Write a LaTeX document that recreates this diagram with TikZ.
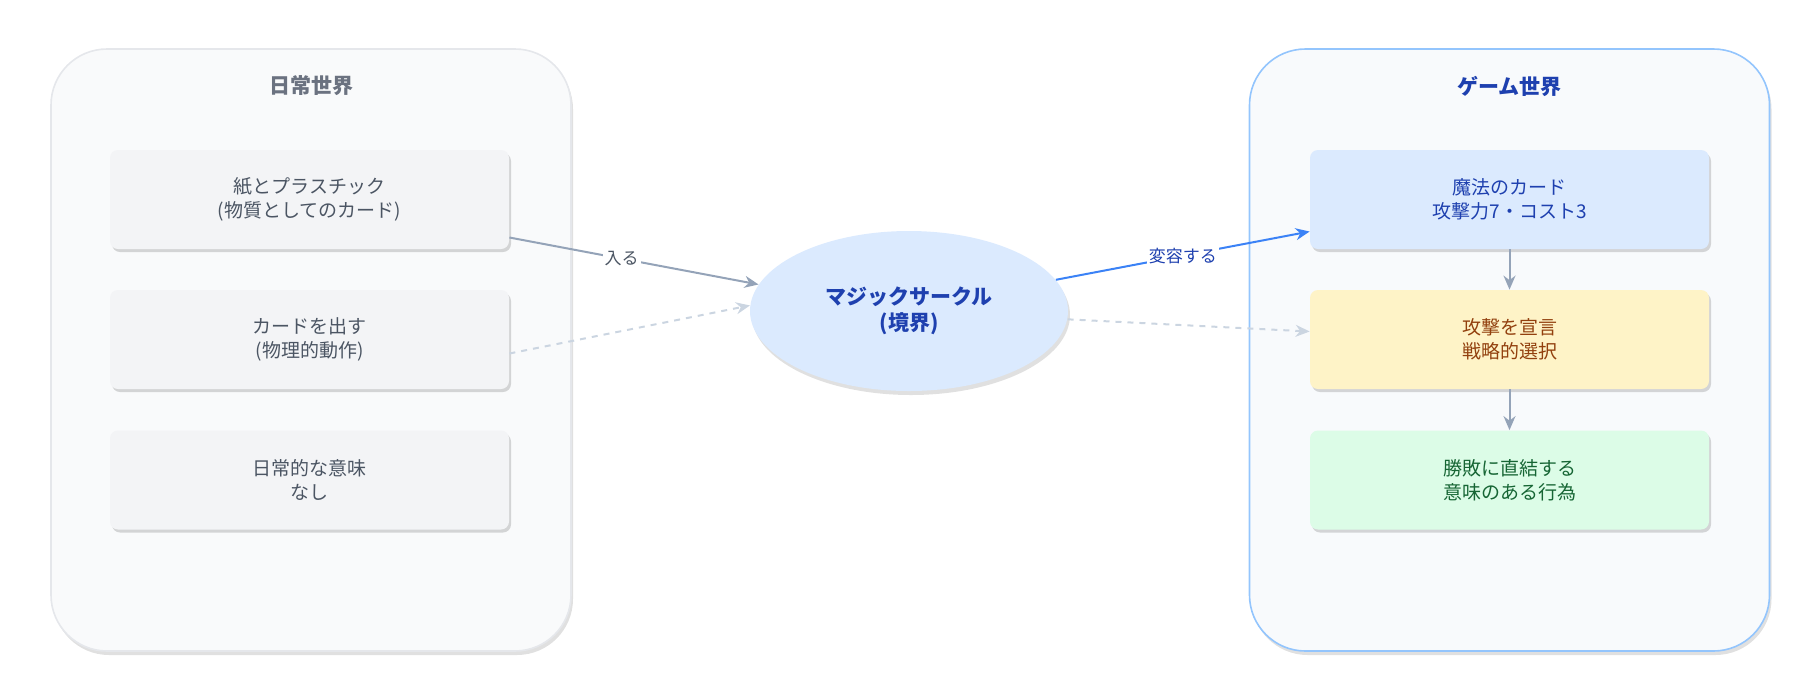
\documentclass[tikz,border=0pt]{standalone}
\usepackage{fontspec}
\setmainfont{Noto Sans CJK JP}
\usetikzlibrary{positioning,shadows,arrows.meta,shapes.geometric}
\definecolor{panelgray}{HTML}{F9FAFB}
\definecolor{panelline}{HTML}{E5E7EB}
\definecolor{panelblue}{HTML}{F8FAFC}
\definecolor{panelblueline}{HTML}{93C5FD}
\definecolor{boxgray}{HTML}{F3F4F6}
\definecolor{textgray}{HTML}{4B5563}
\definecolor{titlegray}{HTML}{6B7280}
\definecolor{bluefill}{HTML}{DBEAFE}
\definecolor{bluetext}{HTML}{1E40AF}
\definecolor{yellowfill}{HTML}{FEF3C7}
\definecolor{browntext}{HTML}{92400E}
\definecolor{greenfill}{HTML}{DCFCE7}
\definecolor{greentext}{HTML}{166534}
\definecolor{arrowgray}{HTML}{94A3B8}
\definecolor{dashgray}{HTML}{CBD5E1}
\definecolor{arrowblue}{HTML}{3B82F6}
\tikzset{
  panel/.style={rounded corners=28pt, line width=0.8pt, minimum width=260pt, minimum height=301pt,
    drop shadow={shadow xshift=1pt, shadow yshift=-2pt, fill=black, opacity=0.12}},
  item/.style={rounded corners=4pt, minimum width=199.5pt, minimum height=49.5pt, align=center,
    font=\fontsize{9.5}{12}\selectfont,
    drop shadow={shadow xshift=1pt, shadow yshift=-1.5pt, fill=black, opacity=0.15}},
  flow/.style={-{Stealth[length=7pt,width=6pt]}, line width=1pt},
  lbl/.style={fill=white, inner sep=1pt, font=\fontsize{8.5}{10}\selectfont, text=textgray}
}
\begin{document}
\begin{tikzpicture}[x=0.5pt, y=-0.5pt]
  \useasboundingbox (0,0) rectangle (1805,687);

  % Paneles
  \node[panel, draw=panelline, fill=panelgray] (daily) at (311,350) {};
  \node[panel, draw=panelblueline, fill=panelblue] (game) at (1509.5,350) {};
  \node[font=\bfseries\fontsize{10.5}{12}\selectfont, text=titlegray] (dailytitle) at (311,86) {日常世界};
  \node[font=\bfseries\fontsize{10.5}{12}\selectfont, text=bluetext] (gametitle) at (1509.5,86) {ゲーム世界};

  % Mundo cotidiano
  \node[item, fill=boxgray, text=textgray] (paper) at (309.5,199.5) {紙とプラスチック\\(物質としてのカード)};
  \node[item, fill=boxgray, text=textgray] (play) at (309.5,339.5) {カードを出す\\(物理的動作)};
  \node[item, fill=boxgray, text=textgray] (meaning) at (309.5,480) {日常的な意味\\なし};

  % Mundo del juego
  \node[item, fill=bluefill, text=bluetext] (magic) at (1509.5,199.5) {魔法のカード\\攻撃力7・コスト3};
  \node[item, fill=yellowfill, text=browntext] (attack) at (1509.5,339.5) {攻撃を宣言\\戦略的選択};
  \node[item, fill=greenfill, text=greentext] (victory) at (1509.5,480) {勝敗に直結する\\意味のある行為};

  % Círculo mágico
  \node[ellipse, minimum width=159pt, minimum height=80pt, inner sep=0pt, fill=bluefill, align=center, text=bluetext,
    font=\bfseries\fontsize{10.5}{13}\selectfont,
    drop shadow={shadow xshift=1pt, shadow yshift=-2pt, fill=black, opacity=0.12}]
    (circle) at (909,311) {マジックサークル\\(境界)};

  % Flechas
  \draw[flow, arrowgray] ([yshift=-19pt]paper.east) -- node[lbl, pos=0.45] {入る} (circle.170);
  \draw[flow, dashgray, dashed] ([yshift=-7pt]play.east) -- (circle.178);
  \draw[flow, arrowblue] (circle.12) -- node[lbl, text=bluetext, pos=0.5] {変容する} ([yshift=-16pt]magic.west);
  \draw[flow, dashgray, dashed] (circle.357) -- ([yshift=4pt]attack.west);
  \draw[flow, arrowgray] (magic) -- (attack);
  \draw[flow, arrowgray] (attack) -- (victory);
\end{tikzpicture}
\end{document}
